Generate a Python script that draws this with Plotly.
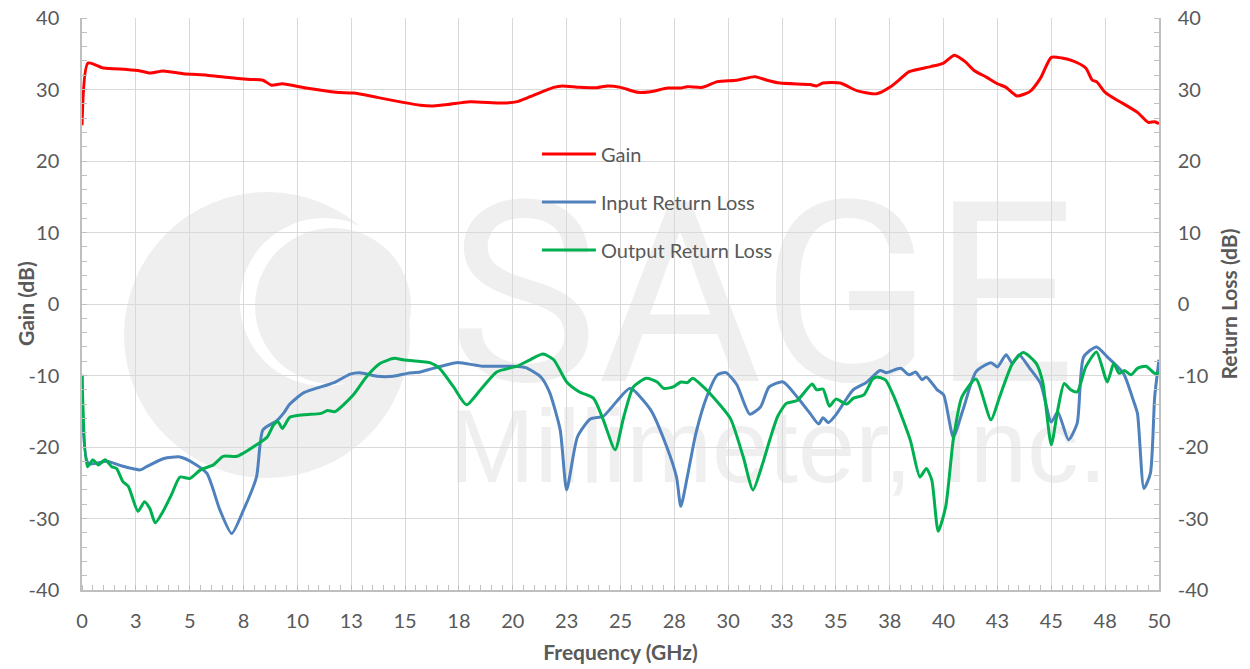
import plotly.graph_objects as go

# ---- data ----
gain_freq = [0, 0.28, 1.0, 2.08, 2.7, 3.16, 3.77, 4.7, 5.8, 6.7,
             7.8, 8.4, 8.8, 9.3, 10.4, 11.8, 12.6, 13.7, 14.9, 15.7,
             16.3, 17.0, 18.0, 19.5, 20.2, 20.65, 21.9, 22.3, 23.1, 23.9,
             24.4, 25.0, 25.8, 26.4, 27.2, 27.8, 28.1, 28.8, 29.5, 30.4,
             31.25, 31.8, 32.4, 33.8, 34.1, 34.4, 35.2, 36.0, 36.9, 37.5,
             38.0, 38.4, 39.4, 40.0, 40.5, 41.0, 41.4, 42.0, 42.5, 42.9,
             43.4, 44.0, 44.5, 45.0, 45.5, 46.0, 46.6, 46.9, 47.1, 47.5,
             48.0, 48.3, 49.0, 49.5, 49.8, 50]
gain_db = [25.0, 33.7, 33.0, 32.8, 32.6, 32.3, 32.6, 32.2, 32.0, 31.7,
           31.4, 31.3, 30.6, 30.8, 30.2, 29.6, 29.5, 28.9, 28.2, 27.8,
           27.7, 27.9, 28.3, 28.1, 28.3, 28.8, 30.3, 30.5, 30.3, 30.25,
           30.5, 30.3, 29.6, 29.7, 30.2, 30.2, 30.4, 30.3, 31.1, 31.3,
           31.8, 31.3, 30.9, 30.7, 30.5, 30.9, 30.9, 29.8, 29.4, 30.3,
           31.5, 32.5, 33.2, 33.7, 34.8, 33.9, 32.7, 31.7, 30.8, 30.3,
           29.1, 29.7, 31.6, 34.5, 34.4, 34.0, 33.0, 31.3, 31.1, 29.6,
           28.6, 28.1, 26.8, 25.4, 25.5, 25.2]

irl_freq = [0, 0.3, 1.15, 1.9, 2.7, 3.0, 3.8, 4.55, 5.2, 5.8,
            6.4, 6.95, 7.5, 8.1, 8.4, 9.05, 9.35, 9.65, 10.3, 11.7,
            12.45, 12.9, 13.7, 14.45, 15.1, 15.7, 16.3, 17.4, 18.6, 20.0,
            20.6, 21.3, 21.7, 22.2, 22.5, 23.0, 23.6, 24.2, 24.8, 25.45,
            26.4, 27.15, 27.6, 27.8, 28.1, 28.5, 29.0, 29.5, 29.9, 30.4,
            31.0, 31.5, 31.9, 32.55, 33.2, 33.8, 34.2, 34.4, 34.65, 35.0,
            35.8, 36.4, 37.05, 37.35, 38.0, 38.4, 38.7, 39.0, 39.2, 39.7,
            40.0, 40.45, 40.9, 41.5, 42.2, 42.5, 42.9, 43.2, 43.5, 44.0,
            44.5, 45.0, 45.3, 45.8, 46.2, 46.5, 47.1, 47.6, 48.35, 48.8,
            49.0, 49.3, 49.6, 49.8, 50]
irl_db = [-10.0, -22.3, -22.0, -22.7, -23.2, -22.75, -21.6, -21.4, -22.3, -23.7,
          -28.8, -32.1, -28.8, -24.2, -17.6, -16.3, -15.3, -14.0, -12.4, -11.0,
          -9.8, -9.6, -10.1, -10.1, -9.7, -9.5, -9.0, -8.2, -8.7, -8.7,
          -8.9, -10.2, -12.3, -17.6, -26.0, -18.6, -16.1, -15.7, -13.7, -11.8,
          -14.8, -20.0, -24.2, -28.3, -24.2, -18.1, -13.0, -9.9, -9.6, -11.3,
          -15.4, -14.4, -11.6, -10.9, -13.0, -15.3, -16.8, -15.9, -16.6, -15.5,
          -12.0, -11.0, -9.3, -9.6, -9.0, -9.9, -9.5, -10.6, -10.2, -12.0,
          -12.7, -18.6, -14.8, -9.5, -8.2, -8.8, -7.1, -8.3, -7.1, -9.0,
          -11.1, -16.5, -15.1, -19.0, -16.7, -7.4, -6.0, -7.4, -9.7, -13.4,
          -15.3, -25.8, -23.7, -13.0, -7.8]

orl_freq = [0, 0.25, 0.5, 0.76, 1.07, 1.38, 1.6, 1.9, 2.15, 2.6,
            2.9, 3.15, 3.4, 3.8, 4.15, 4.55, 5.0, 5.5, 6.1, 6.55,
            7.2, 8.1, 8.6, 8.9, 9.1, 9.3, 9.65, 10.3, 11.1, 11.4,
            11.75, 12.6, 13.2, 13.85, 14.5, 14.9, 15.7, 16.15, 16.6, 17.25,
            17.85, 18.5, 19.25, 20.2, 20.8, 21.4, 21.9, 22.5, 23.1, 23.75,
            24.2, 24.75, 25.15, 25.6, 26.2, 26.7, 27.0, 27.45, 27.8, 28.1,
            28.35, 28.85, 29.3, 30.1, 30.7, 31.15, 31.6, 31.95, 32.3, 32.7,
            33.2, 33.9, 34.1, 34.4, 34.7, 35.0, 35.5, 35.8, 36.3, 36.7,
            36.9, 37.3, 37.7, 38.45, 38.9, 39.2, 39.45, 39.75, 40.1, 40.45,
            40.85, 41.5, 42.2, 42.6, 43.2, 43.7, 44.3, 44.6, 45.0, 45.3,
            45.6, 45.9, 46.2, 46.6, 47.1, 47.6, 47.9, 48.15, 48.4, 48.7,
            49.0, 49.4, 49.8, 50]
orl_db = [-9.9, -22.75, -21.8, -22.5, -21.8, -22.75, -23.0, -24.85, -25.5, -29.0,
          -27.65, -28.6, -30.6, -28.8, -26.7, -24.2, -24.4, -23.2, -22.5, -21.3,
          -21.3, -19.7, -18.6, -16.9, -16.45, -17.4, -15.85, -15.5, -15.3, -14.9,
          -15.05, -12.7, -10.2, -8.3, -7.6, -7.8, -8.05, -8.2, -9.0, -11.6,
          -14.1, -12.0, -9.5, -8.7, -7.8, -7.0, -7.8, -10.9, -12.3, -13.2,
          -16.2, -20.4, -15.8, -11.6, -10.4, -10.9, -11.8, -11.6, -10.9, -11.0,
          -10.4, -11.6, -13.0, -16.0, -21.4, -26.0, -22.3, -18.8, -15.7, -13.9,
          -13.5, -11.2, -12.0, -11.9, -14.3, -13.3, -14.0, -13.2, -12.7, -10.5,
          -10.2, -10.6, -13.0, -19.0, -24.2, -23.0, -24.6, -31.8, -28.3, -19.0,
          -13.0, -10.5, -16.2, -13.0, -8.3, -6.8, -8.3, -10.9, -19.7, -14.8,
          -11.1, -12.0, -12.3, -8.8, -6.7, -10.9, -8.3, -9.7, -9.3, -9.9,
          -9.0, -8.7, -9.7, -9.6]

x_tickvals = [0, 2.5, 5, 7.5, 10, 12.5, 15, 17.5, 20, 22.5, 25,
              27.5, 30, 32.5, 35, 37.5, 40, 42.5, 45, 47.5, 50]
x_ticktext = ["0", "3", "5", "8", "10", "13", "15", "18", "20", "23", "25",
              "28", "30", "33", "35", "38", "40", "43", "45", "48", "50"]
y_tickvals = [-40, -30, -20, -10, 0, 10, 20, 30, 40]
y_ticktext = ["-40", "-30", "-20", "-10", "0", "10", "20", "30", "40"]

FONT = "Lato, 'Liberation Sans', Arial, sans-serif"
TXT = "#595959"
GRID = "#d9d9d9"
AXL = "#bfbfbf"
WM = "#efefef"

fig = go.Figure()
fig.add_trace(go.Scatter(x=gain_freq, y=gain_db, name="Gain", mode="lines",
                         line=dict(color="#ff0000", width=3, shape="spline", smoothing=0.6),
                         legendgroup="g1"))
fig.add_trace(go.Scatter(x=irl_freq, y=irl_db, name="Input Return Loss", mode="lines",
                         line=dict(color="#4f81bd", width=3, shape="spline", smoothing=0.6),
                         yaxis="y2", legendgroup="g2"))
fig.add_trace(go.Scatter(x=orl_freq, y=orl_db, name="Output Return Loss", mode="lines",
                         line=dict(color="#00b050", width=3, shape="spline", smoothing=0.6),
                         yaxis="y2", legendgroup="g3"))

# the page's body margin is removed below, so the figure starts at (0, 0)
W, H = 1250, 669
PL, PT, PR, PB = 82, 18, 1159, 590          # plot area in page pixels
L, T = PL, PT
R, B = W - PR, H - PB


def px2paper(px, py):
    return (px - PL) / (PR - PL), (PB - py) / (PB - PT)


shapes = []
# watermark logo (faint), below grid
for (ccx, ccy, rr, col) in [(267, 335, 143, WM), (324, 302, 84, "white"), (333, 306, 78, WM)]:
    x0, y0 = px2paper(ccx - rr, ccy + rr)
    x1, y1 = px2paper(ccx + rr, ccy - rr)
    shapes.append(dict(type="circle", xref="paper", yref="paper", x0=x0, y0=y0, x1=x1, y1=y1,
                       fillcolor=col, line=dict(width=0), layer="below"))
# watermark text (text, centre x, centre y, size, font)
for (txt, cxp, cyp, size, fam) in [("SAGE", 762, 277, 252, "Roboto, 'Liberation Sans', Arial"),
                                   ("Millimeter, Inc.", 778, 436, 103, "'Liberation Sans', Arial")]:
    a0, b0 = px2paper(cxp - 420, cyp + 120)
    a1, b1 = px2paper(cxp + 420, cyp - 120)
    shapes.append(dict(type="rect", xref="paper", yref="paper", x0=a0, y0=b0, x1=a1, y1=b1,
                       line=dict(width=0), fillcolor="rgba(0,0,0,0)", layer="below",
                       label=dict(text=txt, font=dict(family=fam, size=size, color=WM),
                                  textposition="middle center")))

axis_common = dict(showline=True, linecolor=AXL, linewidth=1.5, automargin=False,
                   tickfont=dict(family=FONT, size=20, color=TXT), ticklabeloverflow="allow",
                   ticks="", zeroline=False)

gx, _ = px2paper(25, 0)

fig.update_layout(
    width=W, height=H,
    margin=dict(l=L, r=R, t=T, b=B, autoexpand=False),
    paper_bgcolor="white", plot_bgcolor="white",
    font=dict(family=FONT, color=TXT),
    shapes=shapes,
    xaxis=dict(range=[0, 50], tickvals=x_tickvals, ticktext=x_ticktext,
               showgrid=True, gridcolor=GRID, gridwidth=1.3, ticklabelstandoff=12,
               minor=dict(dtick=0.5, tick0=0, ticks="inside", ticklen=5, tickcolor=AXL, tickwidth=1.3, showgrid=False),
               title=dict(text="<b>Frequency (GHz)</b>", font=dict(family=FONT, size=21, color=TXT)),
               **axis_common),
    yaxis=dict(range=[-40, 40], tickvals=y_tickvals, ticktext=y_ticktext, showgrid=True, gridcolor=GRID,
               gridwidth=1.3, ticklabelstandoff=17,
               minor=dict(dtick=2, tick0=0, ticks="inside", ticklen=5, tickcolor=AXL, tickwidth=1.3, showgrid=False),
               **axis_common),
    yaxis2=dict(range=[-40, 40], tickvals=y_tickvals, ticktext=y_ticktext, overlaying="y", side="right",
                showgrid=False, ticklabelstandoff=13,
                minor=dict(dtick=2, tick0=0, ticks="inside", ticklen=5, tickcolor=AXL, tickwidth=1.3, showgrid=False),
                title=dict(text="<b>Return Loss (dB)</b>", font=dict(family=FONT, size=21, color=TXT)),
                **axis_common),
    annotations=[dict(text="<b>Gain (dB)</b>", xref="paper", yref="paper", x=gx, y=0.5,
                      xanchor="center", yanchor="middle", textangle=-90, showarrow=False,
                      font=dict(family=FONT, size=21, color=TXT))],
    legend=dict(x=0.4224, y=0.7965, xanchor="left", yanchor="top", bgcolor="rgba(0,0,0,0)",
                font=dict(family=FONT, size=20, color=TXT), itemwidth=54, tracegroupgap=19),
    showlegend=True,
)

fig.write_html("out.html", config={"displayModeBar": False},
               post_script="document.body.style.margin='0px';")
